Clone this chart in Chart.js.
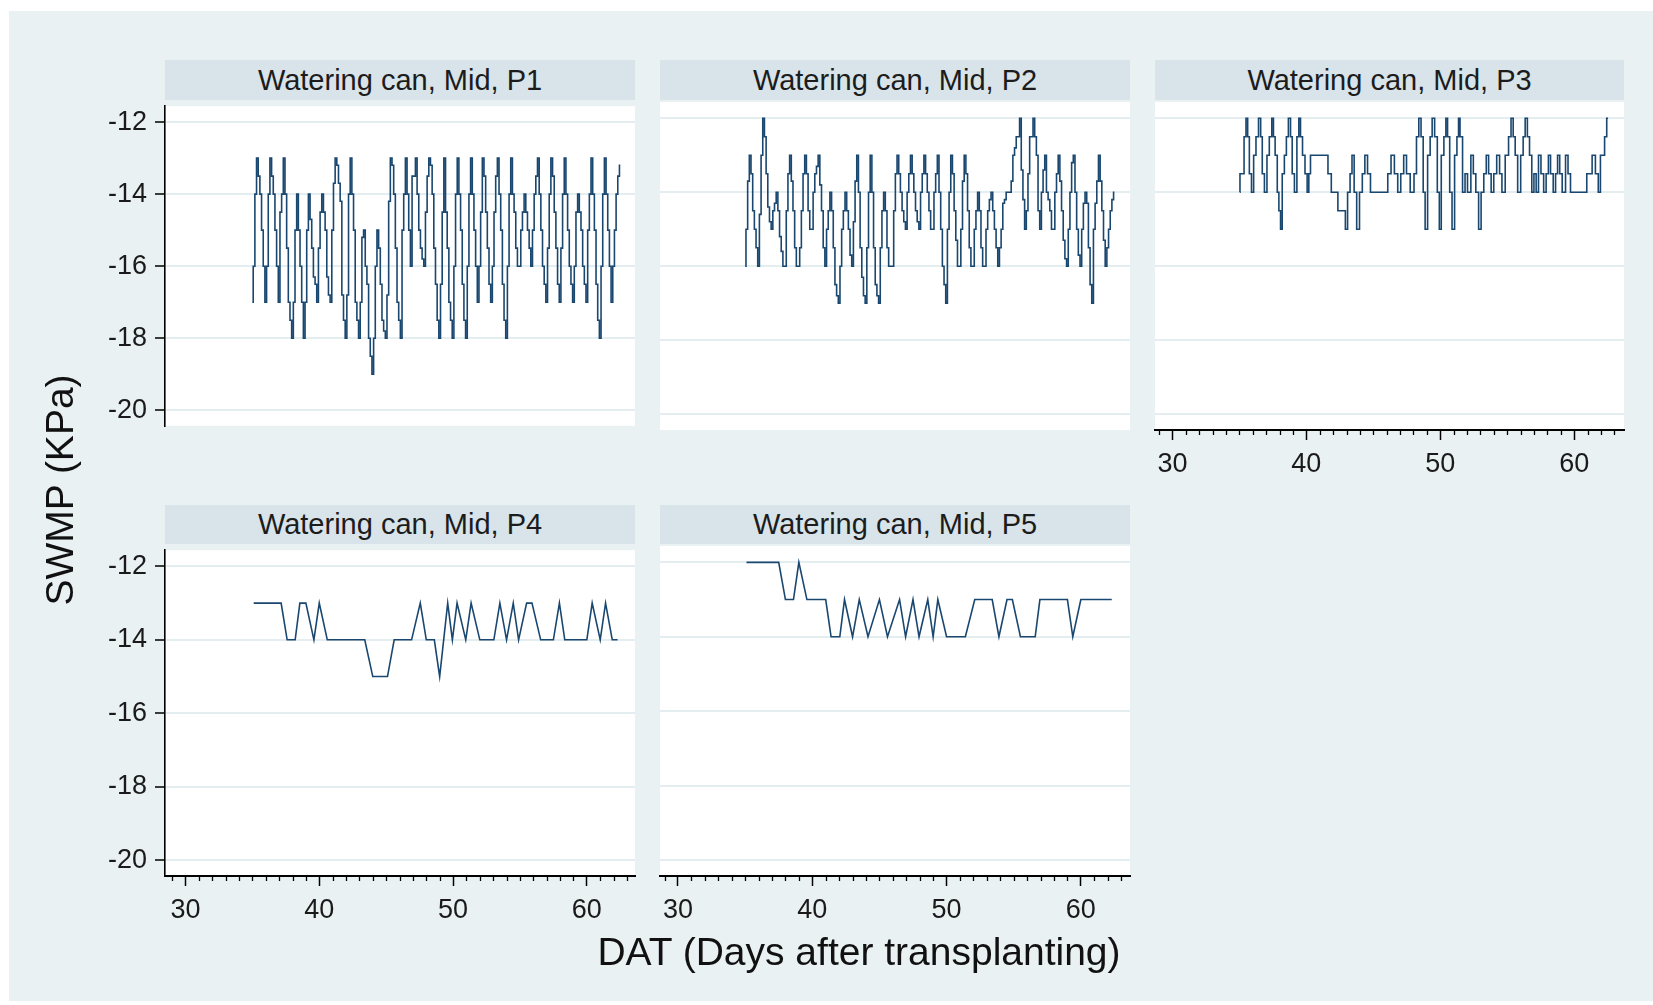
<!DOCTYPE html>
<html>
<head>
<meta charset="utf-8">
<script src="https://cdn.jsdelivr.net/npm/chart.js@4.4.1/dist/chart.umd.min.js"></script>
<style>
  html, body { margin: 0; padding: 0; width: 1653px; height: 1005px; overflow: hidden; background: #ffffff;
    font-family: "Liberation Sans", Arial, sans-serif; }
  #frame { position: absolute; left: 9px; top: 11px; width: 1644px; height: 990px; background: #eaf1f3; }
  .strip { position: absolute; background: #d8e4ea; color: #1c1c1c; font-size: 29px; text-align: center; white-space: nowrap; }
  canvas { position: absolute; }
  .axis-title { position: absolute; color: #111; text-align: center; white-space: nowrap; }
</style>
</head>
<body>
<div id="frame"></div>

<script>
// ---------------------------------------------------------------
// Soil water matric potential (SWMP, kPa) against days after transplanting
// Watering can, mid depth, five probes
// ---------------------------------------------------------------

const PANEL_TITLES = [
  'Watering can, Mid, P1',
  'Watering can, Mid, P2',
  'Watering can, Mid, P3',
  'Watering can, Mid, P4',
  'Watering can, Mid, P5'
];
const DAY_TICKS = [30, 40, 50, 60];
const SWMP_TICKS = [-20, -18, -16, -14, -12];

// P1 and P2: three-hourly readings starting at DAT 35
const READING_STEP = 0.125;
const P1_START = 35;
const p1Swmp = [
  -17, -16, -14, -13, -13.5, -14, -15, -16,
  -17, -16, -14, -13, -13.5, -14, -15, -16,
  -17, -14.5, -14, -13, -14, -15.5, -17, -17.5,
  -18, -17, -15, -14, -15, -16, -17,
  -18, -17, -15, -14, -14.7, -15.5, -16.3, -16.5,
  -17, -15.5, -14.5, -14, -14.5, -15, -16.3, -16.8,
  -17, -15, -13.7, -13, -13.2, -13.7, -14.2, -16.8, -17.5,
  -18, -16.8, -14, -13, -14, -15, -17, -17.5,
  -18, -17, -15.2, -15, -16, -16.5, -18, -18.5,
  -19, -18, -16, -15, -15.5, -16.5, -17.5, -17.8,
  -18, -16.8, -14.2, -13, -13.2, -14, -15.5, -17, -17.5,
  -18, -15, -14, -13, -14, -15,
  -16, -13.5, -13.5, -13, -14, -15, -15.5, -15.8,
  -16, -14.5, -13.5, -13, -13.2, -14, -15.5, -16.5, -17.5,
  -18, -16.5, -14.5, -13, -14.5, -15.5, -17, -17.5,
  -18, -16, -14, -13, -14, -15, -16.5, -17.5,
  -18, -16, -14, -13, -14, -15, -16,
  -17, -16, -14.5, -13, -13.5, -14.5, -15.5, -16.5,
  -17, -16, -14.5, -13.5, -13, -14, -15, -16.5, -17.5,
  -18, -16, -14, -13, -14, -14.5, -15.5, -16,
  -16, -15, -14.5, -14, -14.5, -15, -15.5,
  -16, -15, -14, -13.5, -13, -14, -15, -16, -16.5,
  -17, -15.5, -14, -13, -13.5, -14.5, -15.5, -16.5,
  -17, -15.5, -14, -13, -14, -15, -16, -16.5,
  -17, -16, -14.5, -14, -14.5, -15, -16, -16.5,
  -17, -15, -14, -13, -14, -15, -16.5, -17.5,
  -18, -16, -14, -13, -14, -15, -16,
  -17, -16, -15, -14, -13.5, -13.2
];

const P2_START = 35;
const p2Swmp = [
  -16, -15, -13.7, -13, -13.5, -14.5, -15, -15.5,
  -16, -14.6, -13, -12, -12.5, -13.5, -14.4, -14.8,
  -15, -14.5, -14.3, -14, -14.5, -15.2, -15.6, -16,
  -16, -14.5, -13.5, -13, -13.7, -14.5, -15.5, -16,
  -16, -15.5, -14.5, -13.5, -13, -13.5, -14.5, -15,
  -15, -14, -13.5, -13.3, -13, -13.8, -14.5, -15.5,
  -16, -15, -14.5, -14, -14.5, -15.5, -16.5, -16.8,
  -17, -16, -15, -14.5, -14, -14.5, -15, -15.7,
  -16, -14.8, -13.7, -13, -14, -15.5, -16.3, -16.8,
  -17, -15.5, -14, -13, -14, -15.5, -16.5, -16.8,
  -17, -15.5, -14.5, -14, -14.5, -15.5, -16, -16,
  -16, -14.5, -13.5, -13, -13.5, -14, -14.5, -14.8,
  -15, -14, -13.5, -13, -13.5, -14, -14.5, -14.8,
  -15, -14, -13.5, -13, -13.5, -14, -14.5, -15,
  -15, -14, -13.5, -13, -14, -15, -16, -16.5,
  -17, -15, -14, -13, -13.5, -14.5, -15.3, -16,
  -16, -15, -13.7, -13, -13.5, -14.5, -15.5, -16,
  -16, -15, -14.5, -14, -14.5, -15.5, -16,
  -16, -15, -14.5, -14.2, -14, -14.5, -15, -15.5,
  -16, -15.5, -15, -14.3, -14.2, -14, -14, -14, -13.7, -13, -12.8, -12.5, -12.5, -12, -13.4, -14.2,
  -15, -14.5, -13.5, -12.5, -12.5, -12, -12.5, -13, -14.5,
  -15, -14, -13.4, -13, -14, -14.2, -14.5, -15,
  -15, -14, -13.5, -13, -13.7, -14.5, -15.3, -15.8,
  -16, -15, -14, -13.2, -13, -14, -15, -15.7,
  -16, -15, -14.3, -14, -14.3, -15.5, -16.5,
  -17, -15, -14.3, -13.7, -13, -13.7, -14.5, -15.3,
  -16, -15.5, -15, -14.5, -14.2, -14
];

// P3, P4, P5: turning points of the logged series (DAT, SWMP)
const p3Dat = [
  35.04, 35.05, 35.29, 35.41, 35.58, 35.66, 35.83, 35.98, 36.15, 36.33, 36.53, 36.65, 36.77, 36.97,
  37.15, 37.32, 37.52, 37.57, 37.77, 37.89, 38.01, 38.14, 38.26, 38.46, 38.56, 38.76, 38.88, 39.01,
  39.21, 39.38, 39.50, 39.63, 39.80, 40.00, 40.12, 40.25, 40.37, 41.49, 41.74, 41.99, 42.23, 42.48,
  42.85, 42.98, 43.18, 43.35, 43.47, 43.67, 43.85, 44.09, 44.27, 44.47, 44.67, 44.91, 45.96, 46.20,
  46.45, 46.70, 46.95, 47.15, 47.39, 47.57, 47.94, 48.14, 48.31, 48.49, 48.64, 48.81, 48.93, 49.18,
  49.31, 49.48, 49.68, 49.88, 49.98, 50.17, 50.37, 50.47, 50.62, 50.79, 50.97, 51.17, 51.32, 51.41,
  51.54, 51.79, 51.91, 52.16, 52.41, 52.53, 52.78, 52.95, 53.15, 53.35, 53.52, 53.70, 53.90, 54.09,
  54.34, 54.52, 54.69, 55.01, 55.19, 55.38, 55.51, 55.68, 55.88, 56.13, 56.25, 56.43, 56.58, 56.75,
  56.92, 57.07, 57.25, 57.42, 57.62, 57.82, 57.99, 58.16, 58.31, 58.56, 58.66, 58.86, 58.98, 59.23,
  59.48, 59.60, 59.85, 60.84, 61.04, 61.22, 61.46, 61.71, 61.89, 62.03, 62.21, 62.33, 62.53
];
const p3Swmp = [
  -14, -13.5, -13.5, -12.5, -12, -12.5, -13.5, -14, -13, -12.5, -12, -12.5, -13.5, -14,
  -13, -12.5, -12, -12.5, -13, -14, -14.5, -15, -13.5, -13, -12.5, -12, -12.5, -13.5,
  -14, -12.5, -12, -12.5, -13, -13.5, -14, -13.5, -13, -13, -13.5, -14, -14, -14.5,
  -14.5, -15, -14, -13.5, -13, -14, -15, -14, -13.5, -13, -13.5, -14, -14, -13.5,
  -13, -13.5, -14, -13.5, -13, -13.5, -14, -13.5, -12.5, -12, -12.5, -14, -15, -13,
  -12.5, -12, -12.5, -14, -15, -13, -12.5, -12, -12.5, -14, -15, -13, -12.5, -12,
  -12.5, -14, -13.5, -14, -13, -13.5, -14, -15, -14, -13.5, -13, -13.5, -14, -13.5,
  -13, -13.5, -14, -13, -12.5, -12, -12.5, -13, -14, -13, -12.5, -12, -12.5, -13,
  -14, -13.5, -14, -13, -13.5, -14, -13.5, -13, -13.5, -14, -13.5, -13, -13.5, -14,
  -13, -13.5, -14, -14, -13.5, -13.5, -13, -13.5, -14, -13, -13, -12.5, -12
];

const p4Dat = [
  35.1, 37.15, 37.6, 38.2, 38.55, 39.0, 39.6, 40.0, 40.6, 43.4, 44.0, 45.1, 45.6, 46.9,
  47.55, 48.0, 48.6, 49.0, 49.6, 49.95, 50.3, 50.95, 51.35, 52.0, 53.05, 53.5, 54.0, 54.5,
  54.9, 55.5, 55.9, 56.55, 57.5, 57.95, 58.35, 60.0, 60.4, 61.0, 61.4, 61.9, 62.3
];
const p4Swmp = [
  -13, -13, -14, -14, -13, -13, -14, -13, -14, -14, -15, -15, -14, -14,
  -13, -14, -14, -15, -13, -14, -13, -14, -13, -14, -14, -13, -14, -13,
  -14, -13, -13, -14, -14, -13, -14, -14, -13, -14, -13, -14, -14
];

const p5Dat = [
  35.1, 37.5, 38.0, 38.6, 39.0, 39.6, 41.0, 41.4, 42.05, 42.4, 43.0, 43.5, 44.15, 45.0,
  45.6, 46.5, 46.95, 47.5, 47.95, 48.6, 49.0, 49.35, 50.0, 51.4, 52.1, 53.4, 53.9, 54.5,
  54.9, 55.5, 56.6, 56.95, 59.0, 59.4, 60.0, 62.3
];
const p5Swmp = [
  -12, -12, -13, -13, -12, -13, -13, -14, -14, -13, -14, -13, -14, -13,
  -14, -13, -14, -13, -14, -13, -14, -13, -14, -14, -13, -13, -14, -13,
  -13, -14, -14, -13, -13, -14, -13, -13
];

// ---------------------------------------------------------------
// Point builders
// ---------------------------------------------------------------
function readingsToPoints(start, values) {
  return values.map((v, i) => ({ x: start + i * READING_STEP, y: v }));
}
function pairsToPoints(days, values) {
  return days.map((d, i) => ({ x: d, y: values[i] }));
}

const SERIES = [
  readingsToPoints(P1_START, p1Swmp),
  readingsToPoints(P2_START, p2Swmp),
  pairsToPoints(p3Dat, p3Swmp),
  pairsToPoints(p4Dat, p4Swmp),
  pairsToPoints(p5Dat, p5Swmp)
];
// the frequently logged probes are drawn as a step trace
const STEPPED = ['middle', 'middle', 'middle', false, false];

// ---------------------------------------------------------------
// Panel geometry (plot region in page pixels)
// ---------------------------------------------------------------
const PANELS = [
  { left: 165, top: 102, w: 470, h: 328, stripTop: 60, stripH: 40, showY: true,  showX: false, xmin: 28.47, xmax: 63.6 },
  { left: 660, top: 102, w: 470, h: 328, stripTop: 60, stripH: 40, showY: false, showX: false, xmin: 28.66, xmax: 63.66 },
  { left: 1155, top: 102, w: 469, h: 328, stripTop: 60, stripH: 40, showY: false, showX: true, xmin: 28.7, xmax: 63.72 },
  { left: 165, top: 546, w: 470, h: 330, stripTop: 505, stripH: 39, showY: true,  showX: true, xmin: 28.47, xmax: 63.6 },
  { left: 660, top: 546, w: 470, h: 330, stripTop: 505, stripH: 39, showY: false, showX: true, xmin: 28.66, xmax: 63.66 }
];
const Y_MIN = -20.43, Y_MAX = -11.56;
const Y_AXIS_W = 85, X_AXIS_H = 75, PAD = 20;
const LINE_COLOR = '#1a476f';
const FONT = '"Liberation Sans", Arial, sans-serif';

// white plot region behind grid and data
const plotBackground = {
  id: 'plotBackground',
  beforeDraw(chart) {
    const { ctx, chartArea: a } = chart;
    ctx.save();
    ctx.fillStyle = '#ffffff';
    ctx.fillRect(a.left, a.top, a.right - a.left, a.bottom - a.top);
    ctx.restore();
  }
};

// one-day minor ticks under the DAT axis
const minorTicks = {
  id: 'minorTicks',
  afterDraw(chart, args, opts) {
    if (!opts.show) return;
    const xs = chart.scales.x;
    const ctx = chart.ctx;
    ctx.save();
    ctx.strokeStyle = '#000';
    ctx.lineWidth = 1.3;
    ctx.beginPath();
    for (let d = Math.ceil(xs.min); d <= Math.floor(xs.max); d++) {
      if (d % 10 === 0) continue;
      const px = Math.round(xs.getPixelForValue(d)) + 0.5;
      ctx.moveTo(px, xs.top);
      ctx.lineTo(px, xs.top + 5);
    }
    ctx.stroke();
    ctx.restore();
  }
};

PANELS.forEach((p, i) => {
  // facet strip
  const strip = document.createElement('div');
  strip.className = 'strip';
  strip.style.left = p.left + 'px';
  strip.style.top = p.stripTop + 'px';
  strip.style.width = p.w + 'px';
  strip.style.height = p.stripH + 'px';
  strip.style.lineHeight = p.stripH + 'px';
  strip.textContent = PANEL_TITLES[i];
  document.body.appendChild(strip);

  // chart canvas; panels without a value axis keep a spare left margin
  const yw = p.showY ? Y_AXIS_W : PAD;
  const xh = p.showX ? X_AXIS_H : PAD;
  const cv = document.createElement('canvas');
  const cw = yw + p.w + 10;
  const ch = PAD + p.h + xh;
  cv.width = cw; cv.height = ch;
  cv.style.width = cw + 'px'; cv.style.height = ch + 'px';
  cv.style.left = (p.left - yw) + 'px';
  cv.style.top = (p.top - PAD) + 'px';
  document.body.appendChild(cv);

  new Chart(cv, {
    type: 'line',
    data: {
      datasets: [{
        data: SERIES[i],
        borderColor: LINE_COLOR,
        borderWidth: 1.6,
        pointRadius: 0,
        fill: false,
        tension: 0,
        stepped: STEPPED[i]
      }]
    },
    options: {
      responsive: false,
      animation: false,
      events: [],
      layout: { padding: { top: PAD, bottom: p.showX ? 0 : PAD, left: p.showY ? 0 : PAD, right: 10 } },
      plugins: {
        legend: { display: false },
        tooltip: { enabled: false },
        minorTicks: { show: p.showX }
      },
      scales: {
        x: {
          type: 'linear',
          display: p.showX,
          min: p.xmin,
          max: p.xmax,
          afterBuildTicks: s => { s.ticks = DAY_TICKS.map(v => ({ value: v })); },
          afterFit: s => { s.height = p.showX ? X_AXIS_H : 0; },
          grid: { drawOnChartArea: false, drawTicks: true, tickLength: 10, tickColor: '#000', tickWidth: 1.5 },
          border: { display: true, color: '#000', width: 2 },
          ticks: { font: { family: FONT, size: 27 }, color: '#1a1a1a', padding: 8, maxRotation: 0, autoSkip: false }
        },
        y: {
          type: 'linear',
          min: Y_MIN,
          max: Y_MAX,
          afterBuildTicks: s => { s.ticks = SWMP_TICKS.map(v => ({ value: v })); },
          afterFit: s => { s.width = p.showY ? Y_AXIS_W : 0; },
          grid: { color: '#e4eef1', lineWidth: 2, drawTicks: p.showY, tickLength: 10, tickColor: '#000', tickWidth: 1.5 },
          border: { display: p.showY, color: '#000', width: 1.6 },
          ticks: { display: p.showY, font: { family: FONT, size: 27 }, color: '#1a1a1a', padding: 8 }
        }
      }
    },
    plugins: [plotBackground, minorTicks]
  });
});

// axis titles
const yTitle = document.createElement('div');
yTitle.className = 'axis-title';
yTitle.textContent = 'SWMP (KPa)';
Object.assign(yTitle.style, { left: '-140px', top: '465px', width: '400px', height: '50px', lineHeight: '50px',
  fontSize: '39px', transform: 'rotate(-90deg)' });
document.body.appendChild(yTitle);

const xTitle = document.createElement('div');
xTitle.className = 'axis-title';
xTitle.textContent = 'DAT (Days after transplanting)';
Object.assign(xTitle.style, { left: '459px', top: '927px', width: '800px', height: '50px', lineHeight: '50px',
  fontSize: '39px' });
document.body.appendChild(xTitle);
</script>
</body>
</html>
